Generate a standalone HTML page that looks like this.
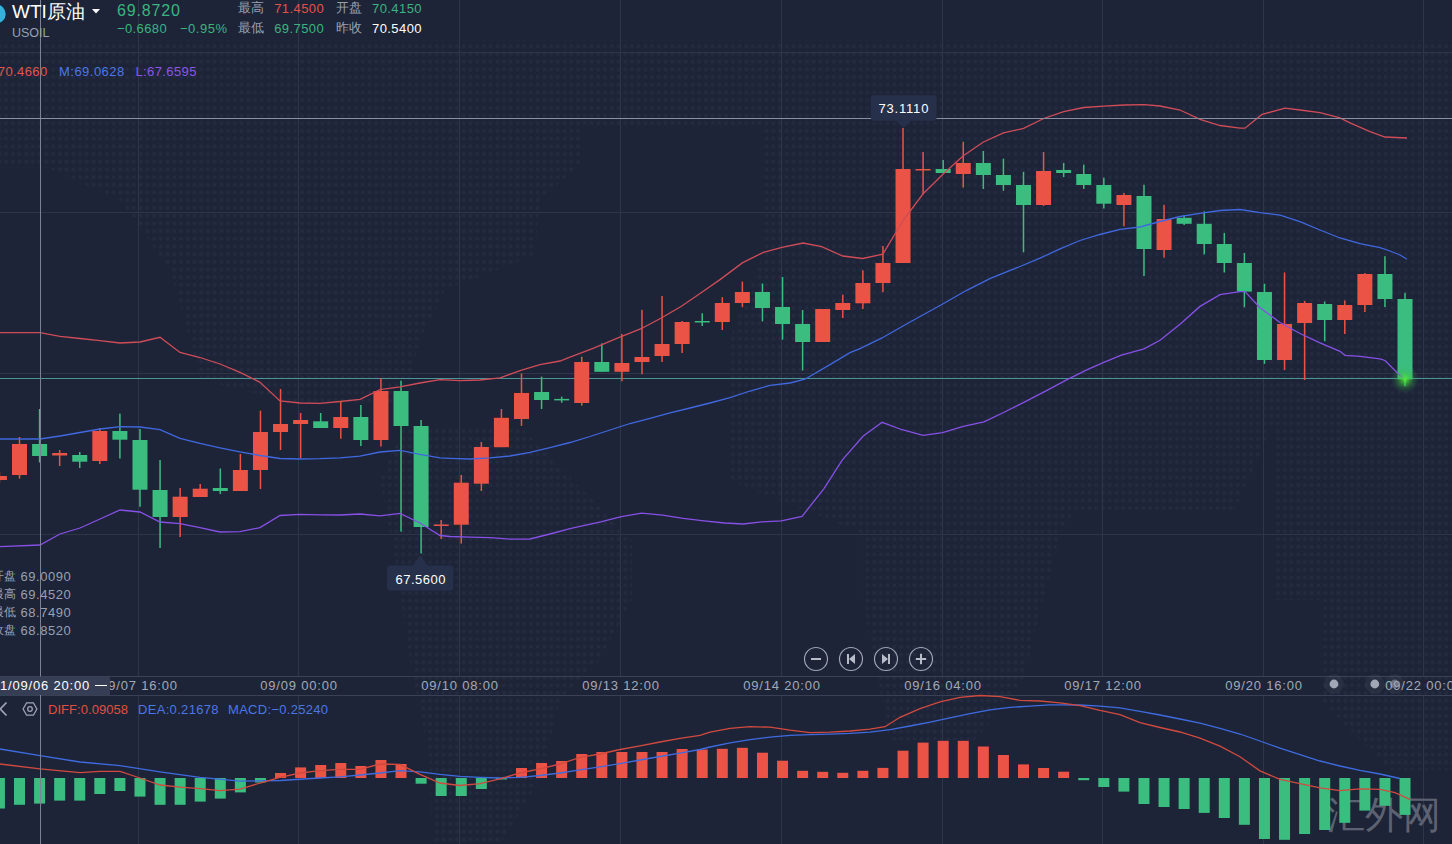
<!DOCTYPE html>
<html><head><meta charset="utf-8"><style>
html,body{margin:0;padding:0;}
body{width:1452px;height:844px;background:#1d2437;overflow:hidden;position:relative;font-family:"Liberation Sans",sans-serif;}
svg{position:absolute;left:0;top:0;}
.t{position:absolute;white-space:nowrap;line-height:1;}
.g{color:#9aa0b1;}
.gr{color:#3bb57f;}
.rd{color:#e2524a;}
.w{color:#ffffff;}
.ax{font-size:13px;color:#a3a8b7;letter-spacing:0.8px;}
</style></head><body>
<svg width="1452" height="844" viewBox="0 0 1452 844">
<defs><pattern id="dots" x="2.6" y="4.2" width="6.73" height="7.7" patternUnits="userSpaceOnUse"><rect x="1.6" y="1.8" width="3.6" height="3.6" rx="1.4" fill="#242b41"/></pattern><clipPath id="mapclip"><polygon points="0.0,40.0 1452.0,40.0 1452.0,125.0 0.0,125.0"/><polygon points="0.0,125.0 580.0,125.0 580.0,165.0 540.0,200.0 535.0,255.0 445.0,290.0 420.0,340.0 403.0,404.0 300.0,404.0 201.0,380.0 190.0,340.0 170.0,270.0 120.0,200.0 48.0,168.0 0.0,168.0"/><polygon points="761.0,125.0 942.0,125.0 942.0,211.0 761.0,211.0"/><polygon points="942.0,125.0 1452.0,125.0 1452.0,600.0 1275.0,600.0 1275.0,420.0 1235.0,510.0 1073.0,510.0 1073.0,380.0 1104.0,340.0 1060.0,260.0 942.0,211.0"/><polygon points="761.0,211.0 942.0,211.0 1060.0,260.0 1104.0,340.0 1104.0,470.0 1060.0,533.0 1023.0,680.0 975.0,740.0 890.0,740.0 862.0,600.0 862.0,533.0 729.0,480.0 729.0,340.0 761.0,260.0"/><polygon points="403.0,429.0 523.0,429.0 632.0,540.0 632.0,600.0 600.0,660.0 560.0,700.0 540.0,780.0 500.0,844.0 432.0,844.0 430.0,760.0 410.0,660.0 395.0,560.0 380.0,480.0"/><polygon points="1320.0,600.0 1452.0,600.0 1452.0,770.0 1390.0,770.0 1320.0,700.0"/></clipPath></defs>
<rect x="0" y="0" width="1452" height="844" fill="url(#dots)" clip-path="url(#mapclip)"/>
<line x1="0" y1="52.5" x2="1452" y2="52.5" stroke="#2e3548" stroke-width="1"/>
<line x1="0" y1="212.5" x2="1452" y2="212.5" stroke="#2e3548" stroke-width="1"/>
<line x1="0" y1="373.5" x2="1452" y2="373.5" stroke="#2e3548" stroke-width="1"/>
<line x1="0" y1="534.5" x2="1452" y2="534.5" stroke="#2e3548" stroke-width="1"/>
<line x1="138.5" y1="0" x2="138.5" y2="676" stroke="#2e3548" stroke-width="1"/>
<line x1="138.5" y1="696" x2="138.5" y2="844" stroke="#2e3548" stroke-width="1"/>
<line x1="298.5" y1="0" x2="298.5" y2="676" stroke="#2e3548" stroke-width="1"/>
<line x1="298.5" y1="696" x2="298.5" y2="844" stroke="#2e3548" stroke-width="1"/>
<line x1="459.5" y1="0" x2="459.5" y2="676" stroke="#2e3548" stroke-width="1"/>
<line x1="459.5" y1="696" x2="459.5" y2="844" stroke="#2e3548" stroke-width="1"/>
<line x1="620.5" y1="0" x2="620.5" y2="676" stroke="#2e3548" stroke-width="1"/>
<line x1="620.5" y1="696" x2="620.5" y2="844" stroke="#2e3548" stroke-width="1"/>
<line x1="781.5" y1="0" x2="781.5" y2="676" stroke="#2e3548" stroke-width="1"/>
<line x1="781.5" y1="696" x2="781.5" y2="844" stroke="#2e3548" stroke-width="1"/>
<line x1="942.5" y1="0" x2="942.5" y2="676" stroke="#2e3548" stroke-width="1"/>
<line x1="942.5" y1="696" x2="942.5" y2="844" stroke="#2e3548" stroke-width="1"/>
<line x1="1102.5" y1="0" x2="1102.5" y2="676" stroke="#2e3548" stroke-width="1"/>
<line x1="1102.5" y1="696" x2="1102.5" y2="844" stroke="#2e3548" stroke-width="1"/>
<line x1="1263.5" y1="0" x2="1263.5" y2="676" stroke="#2e3548" stroke-width="1"/>
<line x1="1263.5" y1="696" x2="1263.5" y2="844" stroke="#2e3548" stroke-width="1"/>
<line x1="1423.5" y1="0" x2="1423.5" y2="676" stroke="#2e3548" stroke-width="1"/>
<line x1="1423.5" y1="696" x2="1423.5" y2="844" stroke="#2e3548" stroke-width="1"/>
<line x1="0" y1="676.5" x2="1452" y2="676.5" stroke="#3a4155" stroke-width="1"/>
<line x1="0" y1="695.5" x2="1452" y2="695.5" stroke="#3a4155" stroke-width="1"/>
<line x1="0" y1="378.5" x2="1452" y2="378.5" stroke="#4a9596" stroke-width="1"/>
<rect x="-1.33" y="472" width="1.5" height="11.0" fill="#ea5345"/>
<rect x="-8.08" y="476" width="15" height="4.0" fill="#ea5345"/>
<rect x="18.75" y="437" width="1.5" height="41.6" fill="#ea5345"/>
<rect x="12.00" y="444" width="15" height="31.0" fill="#ea5345"/>
<rect x="38.83" y="409" width="1.5" height="53.5" fill="#3bbd80"/>
<rect x="32.08" y="444" width="15" height="12.0" fill="#3bbd80"/>
<rect x="58.91" y="450" width="1.5" height="16.0" fill="#ea5345"/>
<rect x="52.16" y="453" width="15" height="2.5" fill="#ea5345"/>
<rect x="78.99" y="452" width="1.5" height="16.0" fill="#3bbd80"/>
<rect x="72.24" y="455" width="15" height="6.7" fill="#3bbd80"/>
<rect x="99.07" y="428" width="1.5" height="36.0" fill="#ea5345"/>
<rect x="92.32" y="431" width="15" height="30.0" fill="#ea5345"/>
<rect x="119.15" y="413.6" width="1.5" height="44.9" fill="#3bbd80"/>
<rect x="112.40" y="431" width="15" height="8.7" fill="#3bbd80"/>
<rect x="139.23" y="429" width="1.5" height="77.8" fill="#3bbd80"/>
<rect x="132.48" y="440" width="15" height="49.7" fill="#3bbd80"/>
<rect x="159.31" y="460" width="1.5" height="88.0" fill="#3bbd80"/>
<rect x="152.56" y="490" width="15" height="27.0" fill="#3bbd80"/>
<rect x="179.39" y="488" width="1.5" height="49.0" fill="#ea5345"/>
<rect x="172.64" y="496.7" width="15" height="20.3" fill="#ea5345"/>
<rect x="199.47" y="484" width="1.5" height="13.0" fill="#ea5345"/>
<rect x="192.72" y="488.7" width="15" height="8.3" fill="#ea5345"/>
<rect x="219.55" y="468.5" width="1.5" height="25.5" fill="#3bbd80"/>
<rect x="212.80" y="488" width="15" height="3.0" fill="#3bbd80"/>
<rect x="239.63" y="454" width="1.5" height="37.0" fill="#ea5345"/>
<rect x="232.88" y="470" width="15" height="21.0" fill="#ea5345"/>
<rect x="259.71" y="410.7" width="1.5" height="78.3" fill="#ea5345"/>
<rect x="252.96" y="432" width="15" height="38.0" fill="#ea5345"/>
<rect x="279.79" y="389" width="1.5" height="61.0" fill="#ea5345"/>
<rect x="273.04" y="424" width="15" height="8.0" fill="#ea5345"/>
<rect x="299.87" y="413" width="1.5" height="45.0" fill="#ea5345"/>
<rect x="293.12" y="420" width="15" height="4.0" fill="#ea5345"/>
<rect x="319.95" y="413" width="1.5" height="15.0" fill="#3bbd80"/>
<rect x="313.20" y="421.3" width="15" height="6.7" fill="#3bbd80"/>
<rect x="340.03" y="402" width="1.5" height="36.7" fill="#ea5345"/>
<rect x="333.28" y="417" width="15" height="11.0" fill="#ea5345"/>
<rect x="360.11" y="405" width="1.5" height="41.0" fill="#3bbd80"/>
<rect x="353.36" y="417" width="15" height="23.0" fill="#3bbd80"/>
<rect x="380.19" y="378.3" width="1.5" height="68.2" fill="#ea5345"/>
<rect x="373.44" y="391" width="15" height="49.0" fill="#ea5345"/>
<rect x="400.27" y="380.6" width="1.5" height="151.0" fill="#3bbd80"/>
<rect x="393.52" y="391" width="15" height="35.0" fill="#3bbd80"/>
<rect x="420.35" y="420" width="1.5" height="133.5" fill="#3bbd80"/>
<rect x="413.60" y="426" width="15" height="101.0" fill="#3bbd80"/>
<rect x="440.43" y="520" width="1.5" height="19.0" fill="#ea5345"/>
<rect x="433.68" y="524.5" width="15" height="1.5" fill="#ea5345"/>
<rect x="460.51" y="475" width="1.5" height="68.6" fill="#ea5345"/>
<rect x="453.76" y="482.7" width="15" height="42.0" fill="#ea5345"/>
<rect x="480.59" y="442" width="1.5" height="49.0" fill="#ea5345"/>
<rect x="473.84" y="447" width="15" height="36.7" fill="#ea5345"/>
<rect x="500.67" y="409" width="1.5" height="38.2" fill="#ea5345"/>
<rect x="493.92" y="417.8" width="15" height="29.4" fill="#ea5345"/>
<rect x="520.75" y="373.5" width="1.5" height="52.4" fill="#ea5345"/>
<rect x="514.00" y="393" width="15" height="26.0" fill="#ea5345"/>
<rect x="540.83" y="376.6" width="1.5" height="32.4" fill="#3bbd80"/>
<rect x="534.08" y="392" width="15" height="8.0" fill="#3bbd80"/>
<rect x="560.91" y="396.7" width="1.5" height="6.0" fill="#3bbd80"/>
<rect x="554.16" y="398.9" width="15" height="1.5" fill="#3bbd80"/>
<rect x="580.99" y="356.7" width="1.5" height="49.0" fill="#ea5345"/>
<rect x="574.24" y="362" width="15" height="41.0" fill="#ea5345"/>
<rect x="601.07" y="343.4" width="1.5" height="28.4" fill="#3bbd80"/>
<rect x="594.32" y="362" width="15" height="9.8" fill="#3bbd80"/>
<rect x="621.15" y="334" width="1.5" height="47.3" fill="#ea5345"/>
<rect x="614.40" y="363" width="15" height="8.8" fill="#ea5345"/>
<rect x="641.23" y="309.8" width="1.5" height="64.4" fill="#ea5345"/>
<rect x="634.48" y="357" width="15" height="5.0" fill="#ea5345"/>
<rect x="661.31" y="296" width="1.5" height="66.0" fill="#ea5345"/>
<rect x="654.56" y="344" width="15" height="12.0" fill="#ea5345"/>
<rect x="681.39" y="321" width="1.5" height="32.0" fill="#ea5345"/>
<rect x="674.64" y="322" width="15" height="22.0" fill="#ea5345"/>
<rect x="701.47" y="313.3" width="1.5" height="12.7" fill="#3bbd80"/>
<rect x="694.72" y="321" width="15" height="1.5" fill="#3bbd80"/>
<rect x="721.55" y="297.2" width="1.5" height="32.8" fill="#ea5345"/>
<rect x="714.80" y="303" width="15" height="19.0" fill="#ea5345"/>
<rect x="741.63" y="281.6" width="1.5" height="25.6" fill="#ea5345"/>
<rect x="734.88" y="292" width="15" height="11.0" fill="#ea5345"/>
<rect x="761.71" y="283.5" width="1.5" height="37.9" fill="#3bbd80"/>
<rect x="754.96" y="292" width="15" height="16.0" fill="#3bbd80"/>
<rect x="781.79" y="277" width="1.5" height="62.7" fill="#3bbd80"/>
<rect x="775.04" y="307" width="15" height="17.0" fill="#3bbd80"/>
<rect x="801.87" y="310" width="1.5" height="60.5" fill="#3bbd80"/>
<rect x="795.12" y="324" width="15" height="18.0" fill="#3bbd80"/>
<rect x="821.95" y="309" width="1.5" height="33.0" fill="#ea5345"/>
<rect x="815.20" y="309" width="15" height="33.0" fill="#ea5345"/>
<rect x="842.03" y="294.6" width="1.5" height="23.4" fill="#ea5345"/>
<rect x="835.28" y="303" width="15" height="7.0" fill="#ea5345"/>
<rect x="862.11" y="270.2" width="1.5" height="38.8" fill="#ea5345"/>
<rect x="855.36" y="283" width="15" height="20.3" fill="#ea5345"/>
<rect x="882.19" y="246" width="1.5" height="46.2" fill="#ea5345"/>
<rect x="875.44" y="263" width="15" height="20.0" fill="#ea5345"/>
<rect x="902.27" y="128" width="1.5" height="135.0" fill="#ea5345"/>
<rect x="895.52" y="169" width="15" height="94.0" fill="#ea5345"/>
<rect x="922.35" y="152" width="1.5" height="42.3" fill="#ea5345"/>
<rect x="915.60" y="169" width="15" height="1.5" fill="#ea5345"/>
<rect x="942.43" y="160" width="1.5" height="13.0" fill="#3bbd80"/>
<rect x="935.68" y="169" width="15" height="4.0" fill="#3bbd80"/>
<rect x="962.51" y="141.7" width="1.5" height="45.9" fill="#ea5345"/>
<rect x="955.76" y="163" width="15" height="11.0" fill="#ea5345"/>
<rect x="982.59" y="151" width="1.5" height="38.0" fill="#3bbd80"/>
<rect x="975.84" y="163" width="15" height="12.0" fill="#3bbd80"/>
<rect x="1002.67" y="158.7" width="1.5" height="32.0" fill="#3bbd80"/>
<rect x="995.92" y="175" width="15" height="10.0" fill="#3bbd80"/>
<rect x="1022.75" y="171.8" width="1.5" height="80.5" fill="#3bbd80"/>
<rect x="1016.00" y="185" width="15" height="20.0" fill="#3bbd80"/>
<rect x="1042.83" y="152" width="1.5" height="54.0" fill="#ea5345"/>
<rect x="1036.08" y="171" width="15" height="34.0" fill="#ea5345"/>
<rect x="1062.91" y="163" width="1.5" height="14.0" fill="#3bbd80"/>
<rect x="1056.16" y="170" width="15" height="3.0" fill="#3bbd80"/>
<rect x="1082.99" y="164.6" width="1.5" height="24.4" fill="#3bbd80"/>
<rect x="1076.24" y="174" width="15" height="11.0" fill="#3bbd80"/>
<rect x="1103.07" y="177.7" width="1.5" height="30.8" fill="#3bbd80"/>
<rect x="1096.32" y="185" width="15" height="18.7" fill="#3bbd80"/>
<rect x="1123.15" y="193" width="1.5" height="33.3" fill="#ea5345"/>
<rect x="1116.40" y="195" width="15" height="10.0" fill="#ea5345"/>
<rect x="1143.23" y="184.8" width="1.5" height="91.2" fill="#3bbd80"/>
<rect x="1136.48" y="196" width="15" height="53.0" fill="#3bbd80"/>
<rect x="1163.31" y="204.8" width="1.5" height="52.9" fill="#ea5345"/>
<rect x="1156.56" y="219" width="15" height="31.0" fill="#ea5345"/>
<rect x="1183.39" y="215" width="1.5" height="10.0" fill="#3bbd80"/>
<rect x="1176.64" y="217.8" width="15" height="6.0" fill="#3bbd80"/>
<rect x="1203.47" y="211.3" width="1.5" height="43.0" fill="#3bbd80"/>
<rect x="1196.72" y="223.8" width="15" height="20.2" fill="#3bbd80"/>
<rect x="1223.55" y="232.9" width="1.5" height="39.6" fill="#3bbd80"/>
<rect x="1216.80" y="244" width="15" height="19.0" fill="#3bbd80"/>
<rect x="1243.63" y="253" width="1.5" height="54.2" fill="#3bbd80"/>
<rect x="1236.88" y="263" width="15" height="28.6" fill="#3bbd80"/>
<rect x="1263.71" y="283.8" width="1.5" height="80.0" fill="#3bbd80"/>
<rect x="1256.96" y="292" width="15" height="68.0" fill="#3bbd80"/>
<rect x="1283.79" y="272.4" width="1.5" height="97.6" fill="#ea5345"/>
<rect x="1277.04" y="324" width="15" height="36.0" fill="#ea5345"/>
<rect x="1303.87" y="301" width="1.5" height="79.0" fill="#ea5345"/>
<rect x="1297.12" y="303" width="15" height="20.0" fill="#ea5345"/>
<rect x="1323.95" y="301.5" width="1.5" height="39.7" fill="#3bbd80"/>
<rect x="1317.20" y="304" width="15" height="16.0" fill="#3bbd80"/>
<rect x="1344.03" y="300.5" width="1.5" height="33.5" fill="#ea5345"/>
<rect x="1337.28" y="305" width="15" height="15.0" fill="#ea5345"/>
<rect x="1364.11" y="273" width="1.5" height="39.0" fill="#ea5345"/>
<rect x="1357.36" y="274" width="15" height="31.0" fill="#ea5345"/>
<rect x="1384.19" y="256.2" width="1.5" height="50.8" fill="#3bbd80"/>
<rect x="1377.44" y="274" width="15" height="25.0" fill="#3bbd80"/>
<rect x="1404.27" y="292.8" width="1.5" height="93.2" fill="#3bbd80"/>
<rect x="1397.52" y="299" width="15" height="80.4" fill="#3bbd80"/>
<polyline points="0.0,332.7 40.0,332.7 60.0,336.4 80.0,338.5 100.0,340.6 120.0,343.0 140.0,342.0 160.0,337.3 180.0,352.4 200.0,357.5 220.0,364.0 240.0,372.4 260.0,382.3 280.0,401.0 300.0,403.0 320.0,403.3 340.0,401.5 360.0,399.3 380.0,389.6 400.0,386.9 420.0,383.0 440.0,379.7 460.0,380.6 480.0,380.0 500.0,377.8 520.0,370.7 540.0,364.7 560.0,361.0 570.0,357.2 593.7,348.2 617.4,338.2 641.1,328.7 661.3,318.0 681.4,306.2 700.4,293.2 720.0,279.6 742.3,262.9 763.4,252.3 782.0,247.4 803.0,243.0 821.6,246.7 842.7,256.0 862.6,258.5 882.9,254.2 903.0,220.5 923.1,193.8 943.2,174.0 963.3,155.8 983.4,142.0 1003.5,132.8 1023.6,128.4 1043.7,118.5 1063.7,111.7 1083.8,107.5 1103.9,106.2 1124.0,105.0 1144.1,104.7 1160.0,106.0 1180.0,110.0 1200.0,119.3 1220.0,125.5 1240.0,128.2 1245.0,128.2 1262.0,114.4 1285.0,108.2 1300.0,110.0 1320.0,112.6 1340.0,117.9 1350.0,122.8 1370.0,131.6 1385.0,137.0 1407.0,138.0" fill="none" stroke="#d04c58" stroke-width="1.3"/>
<polyline points="0.0,439.0 40.0,439.0 60.0,436.0 100.0,429.0 120.0,426.7 140.0,427.0 160.0,429.7 180.0,438.3 200.0,443.4 220.0,447.8 240.0,451.8 260.0,455.5 280.0,458.5 300.0,459.0 320.0,458.7 340.0,457.8 360.0,456.2 380.0,452.0 400.0,450.4 420.0,454.4 440.0,457.8 450.0,458.3 470.0,459.0 490.0,457.9 510.0,456.0 530.0,452.4 550.0,447.7 570.0,442.5 590.0,436.5 610.0,430.0 630.0,423.5 650.0,418.3 670.0,412.8 690.0,408.0 710.0,403.0 730.0,397.7 750.0,391.0 770.0,385.4 790.0,383.0 805.0,379.2 830.0,364.6 850.0,352.7 860.0,348.6 881.5,338.2 907.4,323.5 941.8,304.5 966.7,290.3 990.4,278.4 1020.0,266.5 1040.0,258.2 1060.0,248.8 1080.0,240.5 1100.0,234.5 1120.0,229.3 1140.0,227.0 1160.0,221.5 1180.0,216.5 1200.0,213.4 1220.0,210.5 1240.0,209.5 1260.0,212.6 1280.0,215.2 1300.0,221.7 1320.0,230.0 1340.0,238.0 1360.0,243.7 1380.0,247.7 1390.0,251.0 1400.0,255.0 1407.0,259.2" fill="none" stroke="#4068e0" stroke-width="1.3"/>
<polyline points="0.0,546.7 40.0,545.0 60.0,534.0 80.0,528.0 100.0,519.0 120.0,510.0 140.0,512.0 160.0,522.0 180.0,523.7 200.0,527.6 220.0,532.0 240.0,531.6 260.0,527.6 280.0,515.5 300.0,514.3 320.0,514.8 340.0,515.0 360.0,514.0 380.0,515.9 400.0,513.4 420.0,523.0 440.0,535.5 450.0,536.5 470.0,537.2 490.0,537.7 510.0,539.1 530.0,539.0 550.0,534.0 570.0,528.7 580.0,526.4 600.7,521.9 621.3,516.7 641.6,513.2 662.6,515.1 683.3,518.4 704.0,520.9 724.6,523.0 743.2,524.0 761.8,521.9 781.4,520.9 802.1,516.3 823.8,488.8 842.4,459.9 863.0,436.2 882.1,422.3 901.3,429.5 923.0,435.3 942.6,432.6 963.3,426.4 984.0,421.9 1004.6,412.0 1025.3,401.6 1046.0,390.9 1066.6,379.9 1087.3,369.6 1103.8,362.4 1121.4,355.1 1144.0,348.9 1160.0,340.3 1180.0,324.2 1200.0,306.4 1220.0,294.7 1240.0,291.6 1245.0,291.6 1260.0,307.7 1280.0,322.5 1300.0,333.5 1320.0,342.8 1340.0,351.3 1345.0,355.3 1360.0,356.3 1380.0,358.9 1385.0,360.5 1400.0,375.4 1405.0,379.0" fill="none" stroke="#8750e6" stroke-width="1.3"/>
<text x="1327" y="828" font-size="38" fill="#5d6273" font-family="Liberation Serif, serif">汇外网</text>
<rect x="-6.08" y="778.0" width="11" height="30.5" fill="#3bbd80"/>
<rect x="14.00" y="778.0" width="11" height="26.8" fill="#3bbd80"/>
<rect x="34.08" y="778.0" width="11" height="25.6" fill="#3bbd80"/>
<rect x="54.16" y="778.0" width="11" height="22.6" fill="#3bbd80"/>
<rect x="74.24" y="778.0" width="11" height="22.6" fill="#3bbd80"/>
<rect x="94.32" y="778.0" width="11" height="16.0" fill="#3bbd80"/>
<rect x="114.40" y="778.0" width="11" height="13.0" fill="#3bbd80"/>
<rect x="134.48" y="778.0" width="11" height="18.6" fill="#3bbd80"/>
<rect x="154.56" y="778.0" width="11" height="26.8" fill="#3bbd80"/>
<rect x="174.64" y="778.0" width="11" height="26.8" fill="#3bbd80"/>
<rect x="194.72" y="778.0" width="11" height="23.6" fill="#3bbd80"/>
<rect x="214.80" y="778.0" width="11" height="20.6" fill="#3bbd80"/>
<rect x="234.88" y="778.0" width="11" height="14.4" fill="#3bbd80"/>
<rect x="254.96" y="778.0" width="11" height="4.5" fill="#3bbd80"/>
<rect x="275.04" y="773.0" width="11" height="5.0" fill="#ea5345"/>
<rect x="295.12" y="767.4" width="11" height="10.6" fill="#ea5345"/>
<rect x="315.20" y="765.0" width="11" height="13.0" fill="#ea5345"/>
<rect x="335.28" y="763.0" width="11" height="15.0" fill="#ea5345"/>
<rect x="355.36" y="766.0" width="11" height="12.0" fill="#ea5345"/>
<rect x="375.44" y="760.0" width="11" height="18.0" fill="#ea5345"/>
<rect x="395.52" y="764.0" width="11" height="14.0" fill="#ea5345"/>
<rect x="415.60" y="778.0" width="11" height="5.7" fill="#3bbd80"/>
<rect x="435.68" y="778.0" width="11" height="18.0" fill="#3bbd80"/>
<rect x="455.76" y="778.0" width="11" height="18.0" fill="#3bbd80"/>
<rect x="475.84" y="778.0" width="11" height="11.0" fill="#3bbd80"/>
<rect x="495.92" y="778.0" width="11" height="1.5" fill="#3bbd80"/>
<rect x="516.00" y="768.0" width="11" height="10.0" fill="#ea5345"/>
<rect x="536.08" y="763.0" width="11" height="15.0" fill="#ea5345"/>
<rect x="556.16" y="761.0" width="11" height="17.0" fill="#ea5345"/>
<rect x="576.24" y="754.0" width="11" height="24.0" fill="#ea5345"/>
<rect x="596.32" y="752.0" width="11" height="26.0" fill="#ea5345"/>
<rect x="616.40" y="752.0" width="11" height="26.0" fill="#ea5345"/>
<rect x="636.48" y="752.0" width="11" height="26.0" fill="#ea5345"/>
<rect x="656.56" y="752.0" width="11" height="26.0" fill="#ea5345"/>
<rect x="676.64" y="749.0" width="11" height="29.0" fill="#ea5345"/>
<rect x="696.72" y="749.5" width="11" height="28.5" fill="#ea5345"/>
<rect x="716.80" y="748.8" width="11" height="29.2" fill="#ea5345"/>
<rect x="736.88" y="747.8" width="11" height="30.2" fill="#ea5345"/>
<rect x="756.96" y="752.7" width="11" height="25.3" fill="#ea5345"/>
<rect x="777.04" y="760.7" width="11" height="17.3" fill="#ea5345"/>
<rect x="797.12" y="770.8" width="11" height="7.2" fill="#ea5345"/>
<rect x="817.20" y="771.8" width="11" height="6.2" fill="#ea5345"/>
<rect x="837.28" y="772.8" width="11" height="5.2" fill="#ea5345"/>
<rect x="857.36" y="770.8" width="11" height="7.2" fill="#ea5345"/>
<rect x="877.44" y="767.9" width="11" height="10.1" fill="#ea5345"/>
<rect x="897.52" y="750.7" width="11" height="27.3" fill="#ea5345"/>
<rect x="917.60" y="742.6" width="11" height="35.4" fill="#ea5345"/>
<rect x="937.68" y="740.8" width="11" height="37.2" fill="#ea5345"/>
<rect x="957.76" y="740.8" width="11" height="37.2" fill="#ea5345"/>
<rect x="977.84" y="746.5" width="11" height="31.5" fill="#ea5345"/>
<rect x="997.92" y="755.0" width="11" height="23.0" fill="#ea5345"/>
<rect x="1018.00" y="764.4" width="11" height="13.6" fill="#ea5345"/>
<rect x="1038.08" y="768.0" width="11" height="10.0" fill="#ea5345"/>
<rect x="1058.16" y="771.7" width="11" height="6.3" fill="#ea5345"/>
<rect x="1078.24" y="778.0" width="11" height="2.2" fill="#3bbd80"/>
<rect x="1098.32" y="778.0" width="11" height="9.0" fill="#3bbd80"/>
<rect x="1118.40" y="778.0" width="11" height="13.6" fill="#3bbd80"/>
<rect x="1138.48" y="778.0" width="11" height="26.0" fill="#3bbd80"/>
<rect x="1158.56" y="778.0" width="11" height="29.0" fill="#3bbd80"/>
<rect x="1178.64" y="778.0" width="11" height="31.0" fill="#3bbd80"/>
<rect x="1198.72" y="778.0" width="11" height="34.9" fill="#3bbd80"/>
<rect x="1218.80" y="778.0" width="11" height="40.0" fill="#3bbd80"/>
<rect x="1238.88" y="778.0" width="11" height="46.8" fill="#3bbd80"/>
<rect x="1258.96" y="778.0" width="11" height="61.0" fill="#3bbd80"/>
<rect x="1279.04" y="778.0" width="11" height="61.8" fill="#3bbd80"/>
<rect x="1299.12" y="778.0" width="11" height="56.0" fill="#3bbd80"/>
<rect x="1319.20" y="778.0" width="11" height="52.0" fill="#3bbd80"/>
<rect x="1339.28" y="778.0" width="11" height="44.8" fill="#3bbd80"/>
<rect x="1359.36" y="778.0" width="11" height="32.6" fill="#3bbd80"/>
<rect x="1379.44" y="778.0" width="11" height="27.8" fill="#3bbd80"/>
<rect x="1399.52" y="778.0" width="11" height="36.9" fill="#3bbd80"/>
<polyline points="0.0,749.0 40.0,755.7 80.0,762.0 120.0,765.6 160.0,771.8 200.0,777.3 240.0,781.2 280.0,780.5 320.0,778.0 340.0,776.8 360.0,775.0 380.0,773.0 400.0,770.6 420.0,771.8 440.0,774.3 460.0,776.3 480.0,777.3 500.0,778.0 520.0,777.3 540.0,775.5 560.0,773.0 580.0,769.8 600.0,766.9 620.0,763.6 640.0,760.0 660.0,756.5 680.0,753.2 700.0,749.5 710.0,747.0 730.0,742.8 750.0,739.6 770.0,737.1 790.0,735.4 810.0,734.6 830.0,734.1 850.0,733.4 870.0,732.2 890.0,729.7 910.0,726.0 930.0,722.2 950.0,717.8 970.0,713.6 990.0,709.8 1010.0,707.4 1030.0,706.1 1050.0,704.9 1060.0,704.8 1080.0,705.0 1100.0,706.2 1120.0,707.9 1140.0,711.3 1160.0,715.0 1180.0,719.0 1200.0,723.2 1220.0,728.3 1240.0,734.0 1260.0,741.0 1280.0,748.2 1300.0,754.7 1320.0,761.0 1340.0,766.0 1360.0,770.3 1380.0,774.0 1400.0,778.5" fill="none" stroke="#3f6be0" stroke-width="1.3"/>
<polyline points="0.0,764.0 40.0,768.8 80.0,772.6 100.0,771.3 120.0,771.3 140.0,778.0 160.0,785.0 180.0,787.2 200.0,788.7 220.0,790.7 240.0,789.2 260.0,783.0 280.0,777.3 300.0,773.0 320.0,770.6 340.0,769.3 360.0,769.3 380.0,764.0 400.0,764.4 420.0,774.3 440.0,783.0 460.0,785.5 480.0,783.7 500.0,778.8 520.0,773.0 540.0,768.8 560.0,764.0 580.0,757.4 600.0,754.0 620.0,749.5 640.0,745.8 660.0,742.0 680.0,738.4 700.0,735.4 710.0,732.2 730.0,728.4 750.0,726.7 770.0,727.2 790.0,730.2 810.0,732.6 830.0,732.2 850.0,731.0 870.0,729.2 885.0,726.7 900.0,717.3 920.0,708.6 940.0,701.9 960.0,697.4 980.0,695.5 1000.0,696.7 1020.0,700.4 1040.0,701.0 1060.0,702.8 1080.0,705.6 1100.0,710.4 1120.0,714.7 1140.0,722.6 1160.0,727.5 1180.0,732.0 1200.0,738.2 1220.0,746.2 1240.0,756.7 1260.0,770.9 1280.0,779.4 1300.0,783.6 1320.0,787.9 1340.0,790.7 1360.0,788.8 1380.0,789.3 1395.0,792.7 1410.0,799.3" fill="none" stroke="#d24a3f" stroke-width="1.3"/>
<defs><radialGradient id="gl"><stop offset="0" stop-color="#55f03a" stop-opacity="0.95"/><stop offset="0.3" stop-color="#45d83a" stop-opacity="0.6"/><stop offset="0.65" stop-color="#3cb845" stop-opacity="0.22"/><stop offset="1" stop-color="#3bbd50" stop-opacity="0"/></radialGradient></defs>
<circle cx="1405.0" cy="379.5" r="14" fill="url(#gl)"/>
<line x1="40.5" y1="0" x2="40.5" y2="676.5" stroke="#7c8295" stroke-width="1"/>
<line x1="40.5" y1="695" x2="40.5" y2="844" stroke="#7c8295" stroke-width="1"/>
<line x1="0" y1="118.5" x2="1452" y2="118.5" stroke="#8a90a2" stroke-width="1"/>
<rect x="870.8" y="95.3" width="65.8" height="25.4" rx="3" fill="#27304b"/>
<path d="M896 120.5 L903.4 128 L911 120.5 Z" fill="#27304b"/>
<rect x="387" y="565.5" width="66.4" height="25.1" rx="3" fill="#27304b"/>
<path d="M412.5 566 L420.3 555 L428 566 Z" fill="#27304b"/>
<circle cx="816" cy="659" r="11.5" fill="none" stroke="#9ea4b5" stroke-width="1.2"/>
<circle cx="851" cy="659" r="11.5" fill="none" stroke="#9ea4b5" stroke-width="1.2"/>
<circle cx="886" cy="659" r="11.5" fill="none" stroke="#9ea4b5" stroke-width="1.2"/>
<circle cx="921" cy="659" r="11.5" fill="none" stroke="#9ea4b5" stroke-width="1.2"/>
<rect x="811" y="658" width="10" height="2" fill="#b7bcc9"/>
<rect x="915.8" y="658" width="10.4" height="2" fill="#b7bcc9"/><rect x="920" y="653.8" width="2" height="10.4" fill="#b7bcc9"/>
<rect x="847" y="654" width="2" height="10" fill="#b7bcc9"/><path d="M849 659 L855 654 L855 664 Z" fill="#b7bcc9"/>
<rect x="888" y="654" width="2" height="10" fill="#b7bcc9"/><path d="M888 659 L882 654 L882 664 Z" fill="#b7bcc9"/>
<circle cx="1334" cy="684" r="10" fill="#9ca1b2" fill-opacity="0.08"/><circle cx="1334" cy="684" r="4.4" fill="#a2a7b6" fill-opacity="1"/>
<circle cx="1374.8" cy="684" r="10" fill="#9ca1b2" fill-opacity="0.08"/><circle cx="1374.8" cy="684" r="4.4" fill="#a2a7b6" fill-opacity="1"/>
<circle cx="1394.7" cy="684" r="10" fill="#9ca1b2" fill-opacity="0.08"/><circle cx="1394.7" cy="684" r="4.4" fill="#a2a7b6" fill-opacity="0.55"/>
<path d="M6.5 702.5 L0.3 709 L6.5 715.5" fill="none" stroke="#9ea4b5" stroke-width="1.7"/>
<path d="M26.6 702.8 L33.4 702.8 L36.9 709 L33.4 715.2 L26.6 715.2 L23.1 709 Z" fill="none" stroke="#9ea4b5" stroke-width="1.3"/><circle cx="30" cy="709" r="2.3" fill="none" stroke="#9ea4b5" stroke-width="1.3"/>
<circle cx="-3.5" cy="13.9" r="10.3" fill="#112a40"/><circle cx="-3.5" cy="13.9" r="9.2" fill="#36b1da"/>
<path d="M92 9 L100 9 L96 13.5 Z" fill="#ffffff"/>
</svg>
<div class="t w" style="left:12px;top:2px;font-size:19px;">WTI原油</div>
<div class="t g" style="left:12px;top:27px;font-size:12.5px;">USOIL</div>
<div class="t gr" style="left:117px;top:2.8px;font-size:16px;letter-spacing:0.85px;">69.8720</div>
<div class="t gr" style="left:117px;top:22px;font-size:13px;letter-spacing:0.38px;">&minus;0.6680</div>
<div class="t gr" style="left:180px;top:22px;font-size:13px;letter-spacing:0.5px;">&minus;0.95%</div>
<div class="t g" style="left:238px;top:2px;font-size:12.7px;">最高</div>
<div class="t rd" style="left:274.2px;top:2px;font-size:13px;letter-spacing:0.42px;">71.4500</div>
<div class="t g" style="left:335.8px;top:2px;font-size:12.5px;">开盘</div>
<div class="t gr" style="left:372px;top:2px;font-size:13px;letter-spacing:0.42px;">70.4150</div>
<div class="t g" style="left:238px;top:22px;font-size:12.7px;">最低</div>
<div class="t gr" style="left:274.2px;top:22px;font-size:13px;letter-spacing:0.42px;">69.7500</div>
<div class="t g" style="left:335.8px;top:22px;font-size:12.5px;">昨收</div>
<div class="t w" style="left:372px;top:22px;font-size:13px;letter-spacing:0.42px;">70.5400</div>

<div class="t" style="left:-16px;top:65px;font-size:13px;letter-spacing:0.4px;color:#e0574a;">U:70.4660</div>
<div class="t" style="left:59px;top:65px;font-size:13px;letter-spacing:0.48px;color:#4b78ea;">M:69.0628</div>
<div class="t" style="left:135.5px;top:65px;font-size:13px;letter-spacing:0.38px;color:#8c56e8;">L:67.6595</div>

<div class="t w" style="left:878.5px;top:102px;font-size:13px;letter-spacing:0.8px;">73.1110</div>
<div class="t w" style="left:395.5px;top:572.5px;font-size:13px;letter-spacing:0.5px;">67.5600</div>

<div class="t g" style="left:-8.5px;top:570.2px;font-size:12px;">开盘</div>
<div class="t g" style="left:-8.5px;top:588.2px;font-size:12px;">最高</div>
<div class="t g" style="left:-8.5px;top:606.2px;font-size:12px;">最低</div>
<div class="t g" style="left:-8.5px;top:624.2px;font-size:12px;">收盘</div>
<div class="t g" style="left:20.5px;top:570.2px;font-size:13px;letter-spacing:0.55px;">69.0090</div>
<div class="t g" style="left:20.5px;top:588.2px;font-size:13px;letter-spacing:0.55px;">69.4520</div>
<div class="t g" style="left:20.5px;top:606.2px;font-size:13px;letter-spacing:0.55px;">68.7490</div>
<div class="t g" style="left:20.5px;top:624.2px;font-size:13px;letter-spacing:0.55px;">68.8520</div>

<div class="t ax" style="left:100.0px;top:679px;width:78px;text-align:center;">09/07 16:00</div>
<div class="t ax" style="left:260.0px;top:679px;width:78px;text-align:center;">09/09 00:00</div>
<div class="t ax" style="left:421.0px;top:679px;width:78px;text-align:center;">09/10 08:00</div>
<div class="t ax" style="left:582.0px;top:679px;width:78px;text-align:center;">09/13 12:00</div>
<div class="t ax" style="left:743.0px;top:679px;width:78px;text-align:center;">09/14 20:00</div>
<div class="t ax" style="left:904.0px;top:679px;width:78px;text-align:center;">09/16 04:00</div>
<div class="t ax" style="left:1064.0px;top:679px;width:78px;text-align:center;">09/17 12:00</div>
<div class="t ax" style="left:1225.0px;top:679px;width:78px;text-align:center;">09/20 16:00</div>
<div class="t ax" style="left:1385.0px;top:679px;width:78px;text-align:center;">09/22 00:00</div>
<div style="position:absolute;left:0;top:676.5px;width:110px;height:18px;background:#363e55;"></div>
<div class="t w" style="left:-61px;top:679px;width:151px;text-align:right;font-size:13px;letter-spacing:0.8px;">2021/09/06 20:00</div>
<div style="position:absolute;left:95px;top:685px;width:11.6px;height:1.4px;background:#fff;"></div>

<div class="t" style="left:48px;top:702.5px;font-size:13px;letter-spacing:0.05px;color:#e0503f;">DIFF:0.09058</div>
<div class="t" style="left:138px;top:702.5px;font-size:13px;letter-spacing:0.32px;color:#4a77e8;">DEA:0.21678</div>
<div class="t" style="left:228px;top:702.5px;font-size:13px;letter-spacing:0.3px;color:#4a77e8;">MACD:&minus;0.25240</div>
</body></html>
